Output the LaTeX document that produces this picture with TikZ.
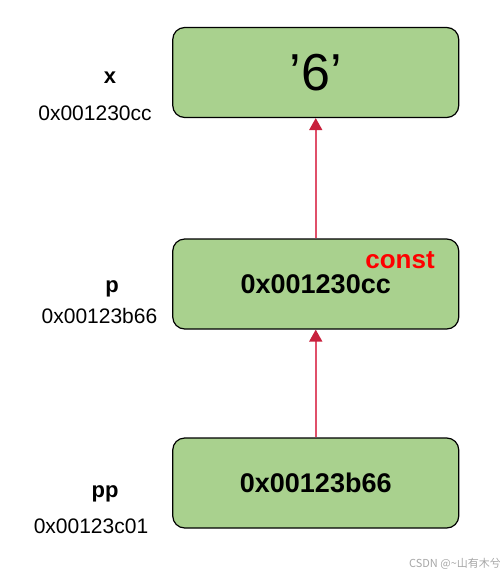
\documentclass[tikz,border=0pt]{standalone}
\usepackage{fontspec}
\setmainfont{Liberation Sans}
\newfontfamily\cjkfont{Noto Sans CJK SC}
\usetikzlibrary{arrows.meta}
\definecolor{boxgreen}{HTML}{A9D18E}
\definecolor{arrowred}{HTML}{C8203C}
\definecolor{linepink}{HTML}{E0506A}
\definecolor{constred}{HTML}{FF0000}
\tikzset{
  membox/.style={draw=black, line width=1.2pt, fill=boxgreen, rounded corners=12pt,
    minimum width=286pt, minimum height=90pt, inner sep=0pt, text=black},
  valtext/.style={font=\fontsize{27}{30}\selectfont\bfseries},
  namelbl/.style={anchor=base, font=\fontsize{22}{26}\selectfont\bfseries},
  addrlbl/.style={anchor=base, font=\fontsize{21}{25}\selectfont},
  ptr/.style={color=linepink, line width=1.6pt, -{Triangle[length=12pt,width=13pt,color=arrowred]}}
}
\begin{document}
\begin{tikzpicture}[x=1pt,y=-1pt]
\useasboundingbox (0,0) rectangle (500,574);
\node[membox, font=\fontsize{52}{56}\selectfont] (bx) at (315.75,72.5) {'6'};
\node[membox, valtext] (bp) at (315.75,284) {0x001230cc};
\node[membox, valtext] (bpp) at (315.75,483) {0x00123b66};
\node[anchor=base, text=constred, font=\fontsize{26}{30}\selectfont\bfseries] (cst) at (400,268) {const};
\node[namelbl] (lx) at (110,83) {x};
\node[addrlbl] (ax) at (95,120) {0x001230cc};
\node[namelbl] (lp) at (112,292) {p};
\node[addrlbl] (ap) at (99.5,323) {0x00123b66};
\node[namelbl] (lpp) at (105,497) {pp};
\node[addrlbl] (app) at (91,533) {0x00123c01};
\node[anchor=base, text=black!35, font=\fontsize{11}{13}\selectfont\cjkfont] (wm) at (455,567) {CSDN @\textasciitilde 山有木兮};
\draw[ptr] (bpp.north) -- (bp.south);
\draw[ptr] (bp.north) -- (bx.south);
\end{tikzpicture}
\end{document}
